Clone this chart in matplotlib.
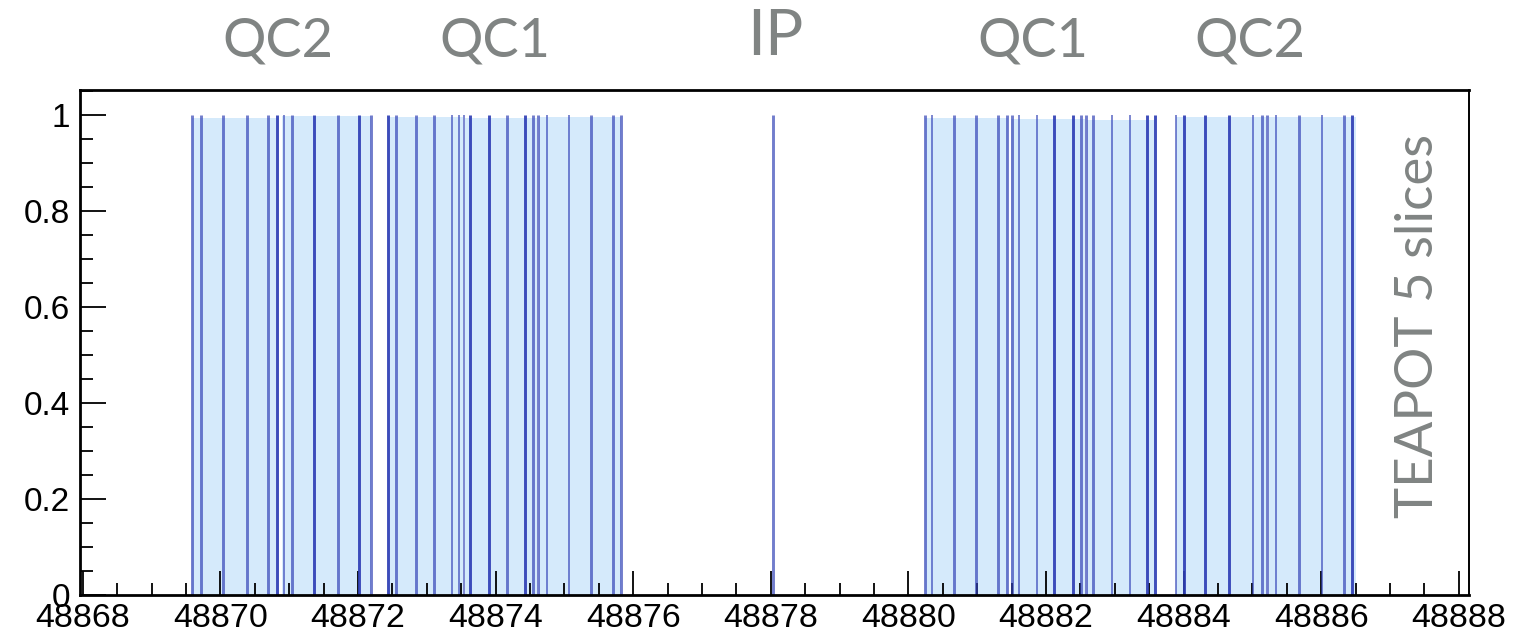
import numpy as np
import matplotlib
matplotlib.use("Agg")
import matplotlib.pyplot as plt
from matplotlib.ticker import MultipleLocator, FixedLocator

# slice positions along s [m] (each drawn as a unit-height line)
slice_left = [48869.581, 48869.717, 48870.032, 48870.381, 48870.695, 48870.821,
              48870.919, 48871.039, 48871.356, 48871.703, 48872.020, 48872.183,
              48872.438, 48872.552, 48872.842, 48873.108, 48873.360, 48873.468,
              48873.539, 48873.629, 48873.900, 48874.169, 48874.433, 48874.538,
              48874.615, 48874.741, 48875.061, 48875.385, 48875.702, 48875.824]
slice_ip = [48878.03]
slice_right = [48880.240, 48880.337, 48880.666, 48880.981, 48881.305, 48881.432,
               48881.509, 48881.606, 48881.868, 48882.119, 48882.387, 48882.503,
               48882.576, 48882.677, 48882.958, 48883.219, 48883.471, 48883.583,
               48883.888, 48884.004, 48884.317, 48884.663, 48885.003, 48885.138,
               48885.218, 48885.341, 48885.676, 48886.010, 48886.334, 48886.446]
slice_val = 1.0

# element extents (filled) and their histogram level
elem_start = [48869.581, 48870.890, 48872.438, 48873.560, 48874.635,
              48880.240, 48881.490, 48882.595, 48883.888, 48885.235]
elem_end = [48870.850, 48872.183, 48873.520, 48874.600, 48875.824,
            48881.450, 48882.560, 48883.583, 48885.200, 48886.500]
elem_val = [0.994, 0.997, 0.996, 0.994, 0.996,
            0.994, 0.992, 0.990, 0.995, 0.995]

# magnet labels above the frame
mag_names = ["QC2", "QC1", "IP", "QC1", "QC2"]
mag_s = [48870.83, 48873.99, 48878.07, 48881.81, 48884.96]
side_label = "TEAPOT 5 slices"

x_ticks = np.arange(48868, 48889, 2)
y_ticks = [0, 0.2, 0.4, 0.6, 0.8, 1.0]
y_ticklabels = ["0", "0.2", "0.4", "0.6", "0.8", "1"]

# line look: t = thin, m = normal, d = doubled / darker
style_left = "mmmmmdtmdmdmdmmmtttddmdmmttmmm"
style_ip = "m"
style_right = "mtmmmmmttddmmmttddtdddtmmtmtmd"

slices = slice_left + slice_ip + slice_right
styles = style_left + style_ip + style_right

fig = plt.figure(figsize=(15.14, 6.36), dpi=100)
fig.patch.set_facecolor("white")
ax = fig.add_axes([0.05284, 0.06447, 0.91744, 0.79403])

fill_col = "#d5eafb"
line_col = "#2f3fb5"
for a, b, v in zip(elem_start, elem_end, elem_val):
    ax.fill_between([a, b], 0, v, color=fill_col, linewidth=0, zorder=1)

look = {"t": (1.1, 0.8), "m": (2.1, 0.68), "d": (2.1, 0.92)}
for kind, (lw, al) in look.items():
    xs = [s for s, k in zip(slices, styles) if k == kind]
    ax.vlines(xs, 0, slice_val, colors=line_col, linewidth=lw, alpha=al, zorder=2)

ax.set_xlim(48867.958, 48888.147)
ax.set_ylim(0, 1.052)

ax.xaxis.set_major_locator(FixedLocator(x_ticks))
ax.xaxis.set_minor_locator(MultipleLocator(0.5))
ax.yaxis.set_major_locator(FixedLocator(y_ticks))
ax.yaxis.set_minor_locator(MultipleLocator(0.05))
ax.set_xticklabels([str(t) for t in x_ticks], family="Liberation Sans", fontsize=24.5)
ax.set_yticklabels(y_ticklabels, family="Liberation Sans", fontsize=24)

ax.tick_params(axis="both", which="both", direction="in", top=False, right=False, color="black")
ax.tick_params(axis="x", which="major", length=17.3, width=1.3, pad=5.5)
ax.tick_params(axis="x", which="minor", length=8.5, width=1.3)
ax.tick_params(axis="y", which="major", length=18.7, width=1.3, pad=7)
ax.tick_params(axis="y", which="minor", length=9.1, width=1.3)

for side in ["left", "bottom", "top"]:
    ax.spines[side].set_linewidth(2.0)
ax.spines["right"].set_linewidth(1.4)

gray = "#808483"
for name, s in zip(mag_names, mag_s):
    fs, yy = (46, 1.105) if name == "IP" else (39, 1.097)
    ax.text(s, yy, name, transform=ax.get_xaxis_transform(),
            ha="center", va="center", fontsize=fs, color=gray, family="Lato")

ax.text(0.964, 0.533, side_label, transform=ax.transAxes, rotation=90,
        ha="center", va="center", fontsize=38, color=gray, family="Lato")

fig.savefig("out.png", dpi=100)
